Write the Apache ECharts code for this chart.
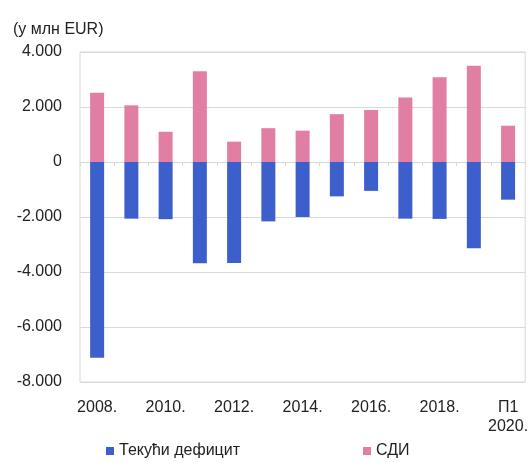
<!DOCTYPE html>
<html>
<head>
<meta charset="utf-8">
<script src="https://cdn.jsdelivr.net/npm/echarts@6/dist/echarts.min.js"></script>
<style>
html,body{margin:0;padding:0;background:#fff;}
#c{width:531px;height:463px;}
</style>
</head>
<body>
<div id="c"></div>
<script>
var categories = ['2008.', '2009.', '2010.', '2011.', '2012.', '2013.', '2014.', '2015.', '2016.', '2017.', '2018.', '2019.', 'П1\n2020.'];
var deficit = [-7120, -2060, -2080, -3680, -3670, -2160, -2000, -1250, -1050, -2060, -2070, -3140, -1370];
var fdi = [2520, 2060, 1100, 3300, 740, 1230, 1140, 1740, 1890, 2350, 3080, 3500, 1320];
var seriesNames = ['Текући дефицит', 'СДИ'];
var unitLabel = '(у млн EUR)';

var chart = echarts.init(document.getElementById('c'), null, {renderer: 'canvas'});
var font = 'Liberation Sans, Arial, sans-serif';
var gridColor = '#d9d9d9';
chart.setOption({
  animation: false,
  backgroundColor: '#fff',
  textStyle: {fontFamily: font},
  title: {
    text: unitLabel, left: 8, top: 17,
    textStyle: {fontSize: 16, fontWeight: 'normal', color: '#222', fontFamily: font}
  },
  legend: [
    {data: [seriesNames[0]], left: 101, top: 438, itemWidth: 8, itemHeight: 8, icon: 'rect',
     textStyle: {fontSize: 16, color: '#222', fontFamily: font}},
    {data: [seriesNames[1]], left: 358, top: 438, itemWidth: 8, itemHeight: 8, icon: 'rect',
     textStyle: {fontSize: 16, color: '#222', fontFamily: font}}
  ],
  grid: {left: 80, right: 3, top: 52, bottom: 81, show: true, borderColor: gridColor, borderWidth: 1},
  xAxis: {
    type: 'category', data: categories,
    axisLine: {show: true, lineStyle: {color: gridColor}},
    axisTick: {show: true, interval: 0, length: 4, lineStyle: {color: gridColor}},
    axisLabel: {interval: 1, color: '#222', fontSize: 16, margin: 16, lineHeight: 19, fontFamily: font}
  },
  yAxis: {
    type: 'value', min: -8000, max: 4000, interval: 2000,
    axisLine: {show: false}, axisTick: {show: false},
    splitLine: {lineStyle: {color: gridColor}},
    axisLabel: {color: '#222', fontSize: 16, margin: 18, fontFamily: font,
      formatter: function (v) {
        var s = Math.abs(v).toString().replace(/\B(?=(\d{3})+(?!\d))/g, '.');
        return (v < 0 ? '-' : '') + s;
      }}
  },
  series: [
    {name: seriesNames[0], type: 'bar', stack: 'a', data: deficit, barWidth: 14,
     itemStyle: {color: '#3d5fcc'}},
    {name: seriesNames[1], type: 'bar', stack: 'a', data: fdi, barWidth: 14,
     itemStyle: {color: '#e07fa3'}}
  ]
});
</script>
</body>
</html>
